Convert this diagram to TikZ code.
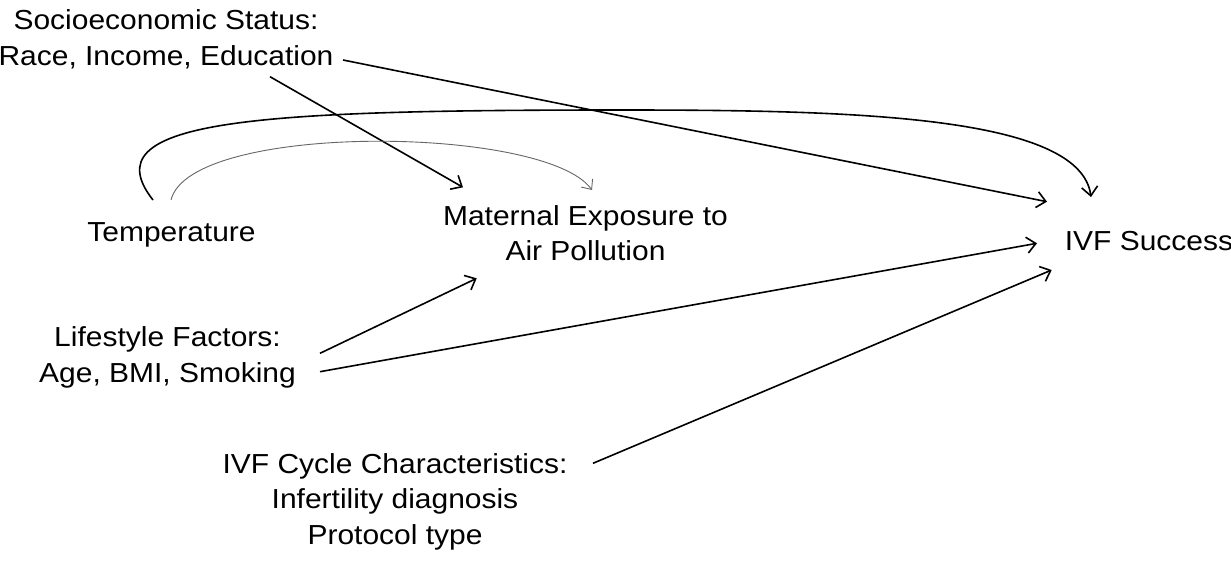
\documentclass[tikz,border=0pt]{standalone}
\usepackage{fontspec}
\setmainfont[FakeStretch=1.09]{Liberation Sans}
\usetikzlibrary{arrows.meta}
\begin{document}
\begin{tikzpicture}[x=1pt,y=-1pt,
  lbl/.style={anchor=north,inner sep=0pt,align=center,font=\fontsize{27.5}{35.5}\selectfont},
  arr/.style={line width=1.6pt,-{Straight Barb[length=9pt,width=16pt,line width=1.6pt]}},
  thinarr/.style={line width=0.9pt,draw=black!60,-{Straight Barb[length=8pt,width=14pt,line width=0.9pt]}}]
\useasboundingbox (0,0) rectangle (1231,560);
\fill[white] (0,0) rectangle (1231,560);
\node[lbl] (ses)  at (166,4.45)   {\strut Socioeconomic Status:\\Race, Income, Education};
\node[lbl] (temp) at (171.5,216.85) {\strut Temperature};
\node[lbl] (mat)  at (585.5,200.15) {\strut Maternal Exposure to\\Air Pollution};
\node[lbl] (ivf)  at (1149,225.15) {\strut IVF Success};
\node[lbl] (life) at (167.5,321.85) {\strut Lifestyle Factors:\\Age, BMI, Smoking};
\node[lbl] (cyc)  at (395,448.15) {\strut IVF Cycle Characteristics:\\Infertility diagnosis\\Protocol type};
\coordinate (bigtop) at (620,110);
% straight arrows
\draw[arr] ([shift={(177,55.55)}]ses.north) -- ([shift={(-102,-23.45)}]ivf.north);
\draw[arr] ([shift={(104,72.25)}]ses.north) -- ([shift={(-122.5,-12.85)}]mat.north);
\draw[arr] ([shift={(152.5,31.45)}]life.north) -- ([shift={(-108.8,78.15)}]mat.north);
\draw[arr] ([shift={(152.5,49.85)}]life.north) -- ([shift={(-112,18.15)}]ivf.north);
\draw[arr] ([shift={(198,15.15)}]cyc.north) -- ([shift={(-97.3,44.85)}]ivf.north);
% curved arrows
\draw[arr] ([shift={(-18.5,-16.85)}]temp.north) .. controls (90,120) and (250,110) .. (bigtop)
  .. controls (850,110) and (1080,115) .. ([shift={(-58,-28.15)}]ivf.north);
\draw[thinarr] ([shift={(-0.5,-16.85)}]temp.north) .. controls (190,122) and (545,125) .. ([shift={(6.5,-10.15)}]mat.north);
\end{tikzpicture}
\end{document}
